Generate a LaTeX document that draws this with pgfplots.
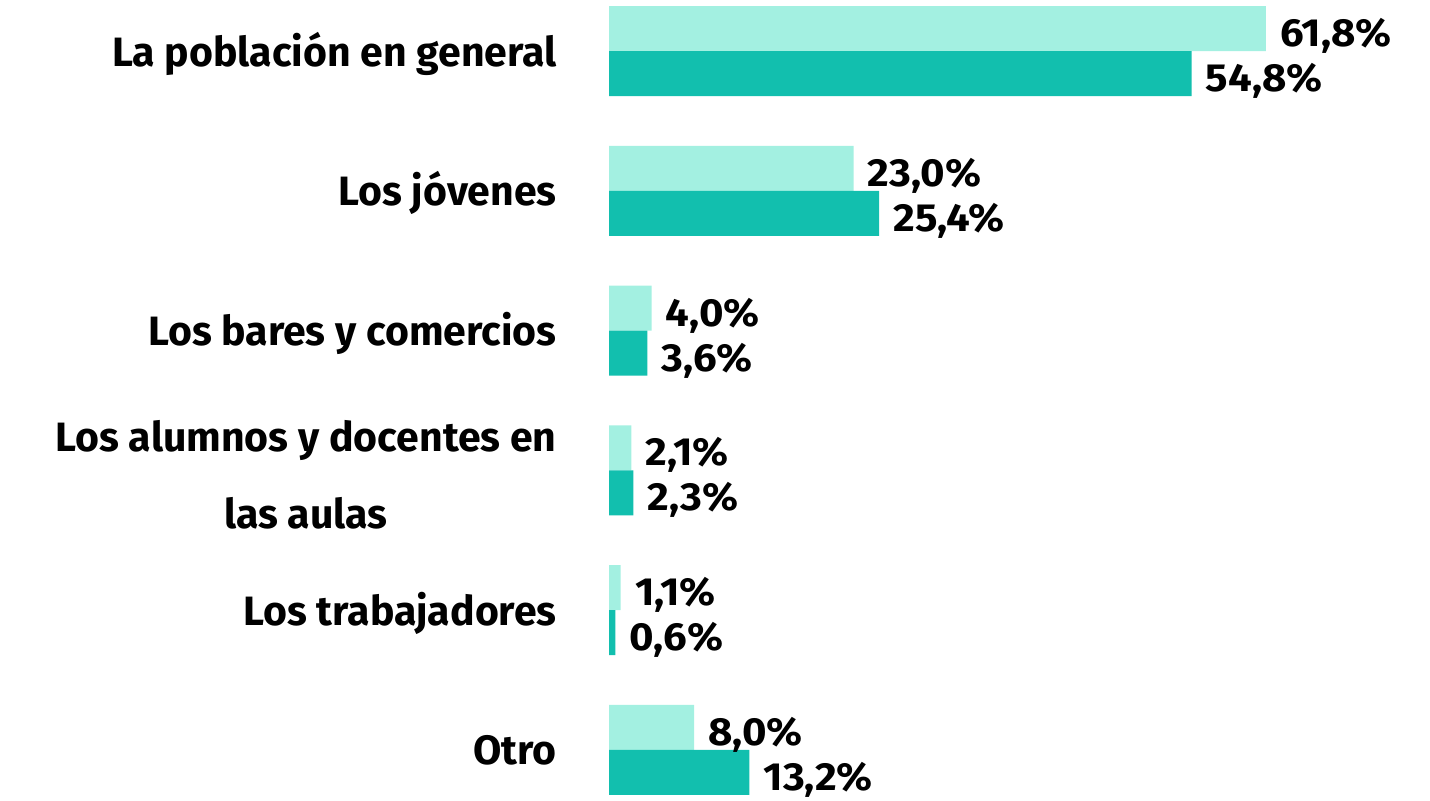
\documentclass[border=0pt]{standalone}
\usepackage{pgfplots}
\pgfplotsset{compat=1.18}
\usepackage{fontspec}
\setmainfont{Fira Sans}
\newfontfamily\valfont[FakeStretch=1.07]{Fira Sans}
\definecolor{lightbar}{HTML}{A3F0E1}
\definecolor{darkbar}{HTML}{12BFAE}
\begin{document}
\begin{tikzpicture}
\begin{axis}[
  at={(304.5pt,0pt)}, anchor=south west,
  scale only axis, width=410.5pt, height=400pt,
  xmin=0, xmax=77.23, ymin=-0.3577, ymax=5.3648,
  axis lines=none, clip=false,
  bar width=22.5pt,
  point meta=explicit symbolic,
  nodes near coords,
  every node near coord/.append style={anchor=base west, inner sep=0pt, xshift=7pt,
    font=\valfont\fontsize{19.6}{20}\selectfont\bfseries, text=black},
]
\addplot[xbar, bar shift=11.25pt, fill=lightbar, draw=none,
  every node near coord/.append style={yshift=2.25pt}] table[meta=label] {
x y label
61.8 5 61,8\%
23.0 4 23,0\%
4.0 3 4,0\%
2.1 2 2,1\%
1.1 1 1,1\%
8.0 0 8,0\%
};
\addplot[xbar, bar shift=-11.25pt, fill=darkbar, draw=none,
  every node near coord/.append style={yshift=-20.25pt}] table[meta=label] {
x y label
54.8 5 54,8\%
25.4 4 25,4\%
3.6 3 3,6\%
2.3 2 2,3\%
0.6 1 0,6\%
13.2 0 13,2\%
};
\begin{scope}[every node/.style={font=\fontsize{20.5}{25}\selectfont\bfseries, inner sep=0pt}]
\node[anchor=base east] at ([xshift=-26pt,yshift=-7.5pt]axis cs:0,5) {La población en general};
\node[anchor=base east] at ([xshift=-26pt,yshift=-7.5pt]axis cs:0,4) {Los jóvenes};
\node[anchor=base east] at ([xshift=-26pt,yshift=-7.5pt]axis cs:0,3) {Los bares y comercios};
\node[anchor=base east] (n1) at ([xshift=-26pt,yshift=9.7pt]axis cs:0,2) {Los alumnos y docentes en};
\node[anchor=base] at ([yshift=-38.5pt]n1.base) {las aulas};
\node[anchor=base east] at ([xshift=-26pt,yshift=-7.5pt]axis cs:0,1) {Los trabajadores};
\node[anchor=base east] at ([xshift=-26pt,yshift=-7.5pt]axis cs:0,0) {Otro};
\end{scope}
\end{axis}
\pgfresetboundingbox
\path[use as bounding box] (0,0) rectangle (715pt,400pt);
\end{tikzpicture}
\end{document}
